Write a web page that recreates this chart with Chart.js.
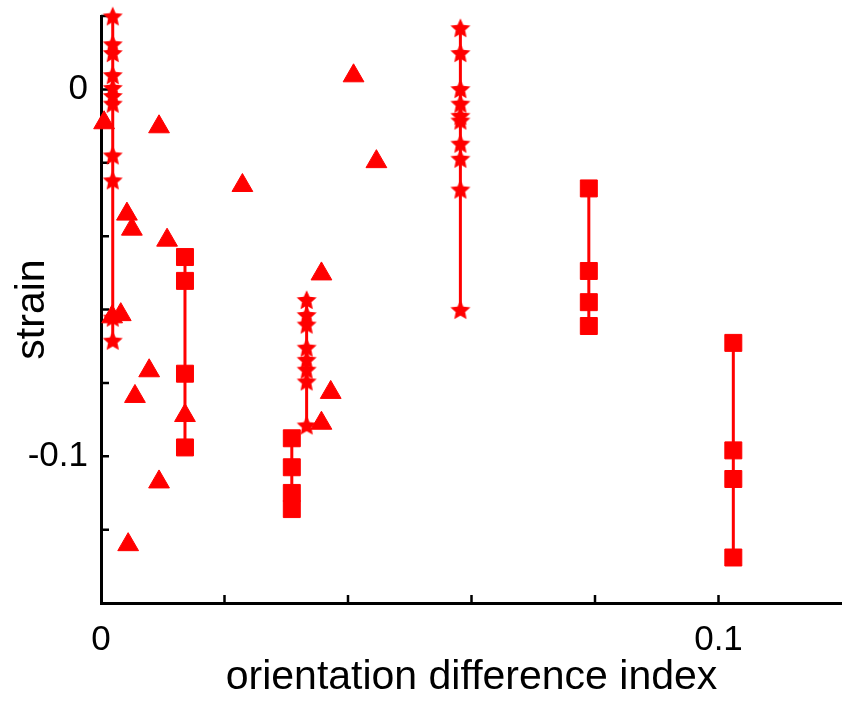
<!DOCTYPE html>
<html>
<head>
<meta charset="utf-8">
<script src="https://cdn.jsdelivr.net/npm/chart.js@4.4.0/dist/chart.umd.min.js"></script>
<style>
html,body{margin:0;padding:0;background:#fff;}
</style>
</head>
<body>
<canvas id="myChart" width="842" height="702"></canvas>
<script>
// scattered triangles (x, y)
const triX = [0.0005, 0.0094, 0.0229, 0.0409, 0.0446, 0.0042, 0.0050, 0.0107, 0.0018, 0.0032, 0.0078, 0.0055, 0.0136, 0.0094, 0.0044, 0.0357, 0.0372, 0.0357];
const triY = [-0.0091, -0.0102, -0.0262, 0.0037, -0.0197, -0.0340, -0.0381, -0.0411, -0.0620, -0.0614, -0.0767, -0.0837, -0.0889, -0.1070, -0.1241, -0.0503, -0.0826, -0.0910];

// star groups: one x each, many strains
const starX = [0.0019, 0.0333, 0.0582];
const starA = [0.0199, 0.0123, 0.0099, 0.0039, 0.0004, -0.0018, -0.0039, -0.0180, -0.0248, -0.0622, -0.0685];
const starB = [-0.0574, -0.0615, -0.0641, -0.0704, -0.0737, -0.0764, -0.0796, -0.0916];
const starC = [0.0167, 0.0099, 0.0001, -0.0039, -0.0072, -0.0085, -0.0148, -0.0189, -0.0273, -0.0601];

// square groups
const sqX = [0.0136, 0.0309, 0.0790, 0.1024];
const sqA = [-0.0457, -0.0522, -0.0775, -0.0976];
const sqB = [-0.0951, -0.1030, -0.1100, -0.1144];
const sqC = [-0.0270, -0.0495, -0.0580, -0.0645];
const sqD = [-0.0691, -0.0984, -0.1062, -0.1276];

// axis ticks
const xLabels = {'0': '0', '0.1': '0.1'};
const yLabels = {'0': '0', '-0.1': '-0.1'};

const RED = '#ff0000';
const FONT = '"Liberation Sans", Arial, sans-serif';

// filled pentagram as point image
function makeStar(size){
	const c = document.createElement('canvas');
	c.width = c.height = size;
	const g = c.getContext('2d');
	const R = size/2 - 0.5, r = R*0.47, cx = size/2, cy = size/2 + 0.8;
	g.fillStyle = RED;
	g.beginPath();
	for(let i=0;i<10;i++){
		const a = -Math.PI/2 + i*Math.PI/5;
		const rr = i%2 ? r : R;
		g.lineTo(cx + Math.cos(a)*rr, cy + Math.sin(a)*rr);
	}
	g.closePath();
	g.fill();
	return c;
}
const starImg = makeStar(22);

function groupSet(x, ys, style, radius){
	return {
		data: ys.map(v=>({x:x, y:v})),
		showLine: true,
		borderColor: RED,
		borderWidth: 3,
		backgroundColor: RED,
		pointStyle: style,
		pointRadius: radius,
		pointBorderWidth: 1,
		pointBorderColor: RED,
		pointBackgroundColor: RED,
		clip: false
	};
}

const datasets = [
	groupSet(starX[0], starA, starImg, 11),
	groupSet(starX[1], starB, starImg, 11),
	groupSet(starX[2], starC, starImg, 11),
	groupSet(sqX[0], sqA, 'rect', 12),
	groupSet(sqX[1], sqB, 'rect', 12),
	groupSet(sqX[2], sqC, 'rect', 12),
	groupSet(sqX[3], sqD, 'rect', 12),
	{
		data: triX.map((v,i)=>({x:v, y:triY[i]})),
		showLine: false,
		pointStyle: 'triangle',
		pointRadius: 12,
		pointBorderWidth: 1,
		pointBorderColor: RED,
		pointBackgroundColor: RED,
		clip: false
	}
];

// ticks pointing inward, like the original
const inTicks = {
	id: 'inTicks',
	beforeDatasetsDraw(chart){
		const {ctx, chartArea:a, scales:{x, y}} = chart;
		ctx.save();
		ctx.strokeStyle = '#000';
		ctx.lineWidth = 2.5;
		ctx.beginPath();
		x.ticks.forEach(t=>{
			const p = x.getPixelForValue(t.value);
			if(p < a.left+3 || p > a.right-3) return;
			ctx.moveTo(p, a.bottom);
			ctx.lineTo(p, a.bottom-8);
		});
		y.ticks.forEach(t=>{
			const p = y.getPixelForValue(t.value);
			if(p > a.bottom-3) return;
			ctx.moveTo(a.left, p);
			ctx.lineTo(a.left+8, p);
		});
		ctx.stroke();
		ctx.restore();
	}
};

function label(map, v){
	const k = Object.keys(map).find(s => Math.abs(Number(s)-v) < 1e-9);
	return k === undefined ? '' : map[k];
}

new Chart(document.getElementById('myChart'), {
	type: 'scatter',
	data: { datasets: datasets },
	plugins: [inTicks],
	options: {
		responsive: false,
		animation: false,
		events: [],
		layout: { autoPadding: false, padding: { top: 16, right: 0, left: 0, bottom: 0 } },
		plugins: { legend: { display: false }, tooltip: { enabled: false } },
		scales: {
			x: {
				type: 'linear',
				min: 0,
				max: 0.12,
				afterFit(s){ s.height = 99; s.paddingLeft = 0; s.paddingRight = 0; },
				grid: { display: false },
				border: { display: true, color: '#000', width: 3 },
				ticks: {
					stepSize: 0.02,
					autoSkip: false,
					maxRotation: 0,
					padding: 8,
					color: '#000',
					font: { family: FONT, size: 35 },
					callback: v => label(xLabels, v)
				},
				title: {
					display: true,
					text: 'orientation difference index',
					color: '#000',
					font: { family: FONT, size: 41 },
					padding: { top: 0, bottom: 0 }
				}
			},
			y: {
				type: 'linear',
				min: -0.14,
				max: 0.02,
				afterFit(s){ s.width = 101; s.paddingTop = 0; s.paddingBottom = 0; },
				grid: { display: false },
				border: { display: true, color: '#000', width: 3 },
				ticks: {
					stepSize: 0.02,
					autoSkip: false,
					padding: 5,
					color: '#000',
					font: { family: FONT, size: 35 },
					callback: v => label(yLabels, v)
				},
				title: {
					display: true,
					text: 'strain',
					color: '#000',
					font: { family: FONT, size: 41 },
					padding: { top: 8, bottom: 0 }
				}
			}
		}
	}
});
</script>
</body>
</html>
